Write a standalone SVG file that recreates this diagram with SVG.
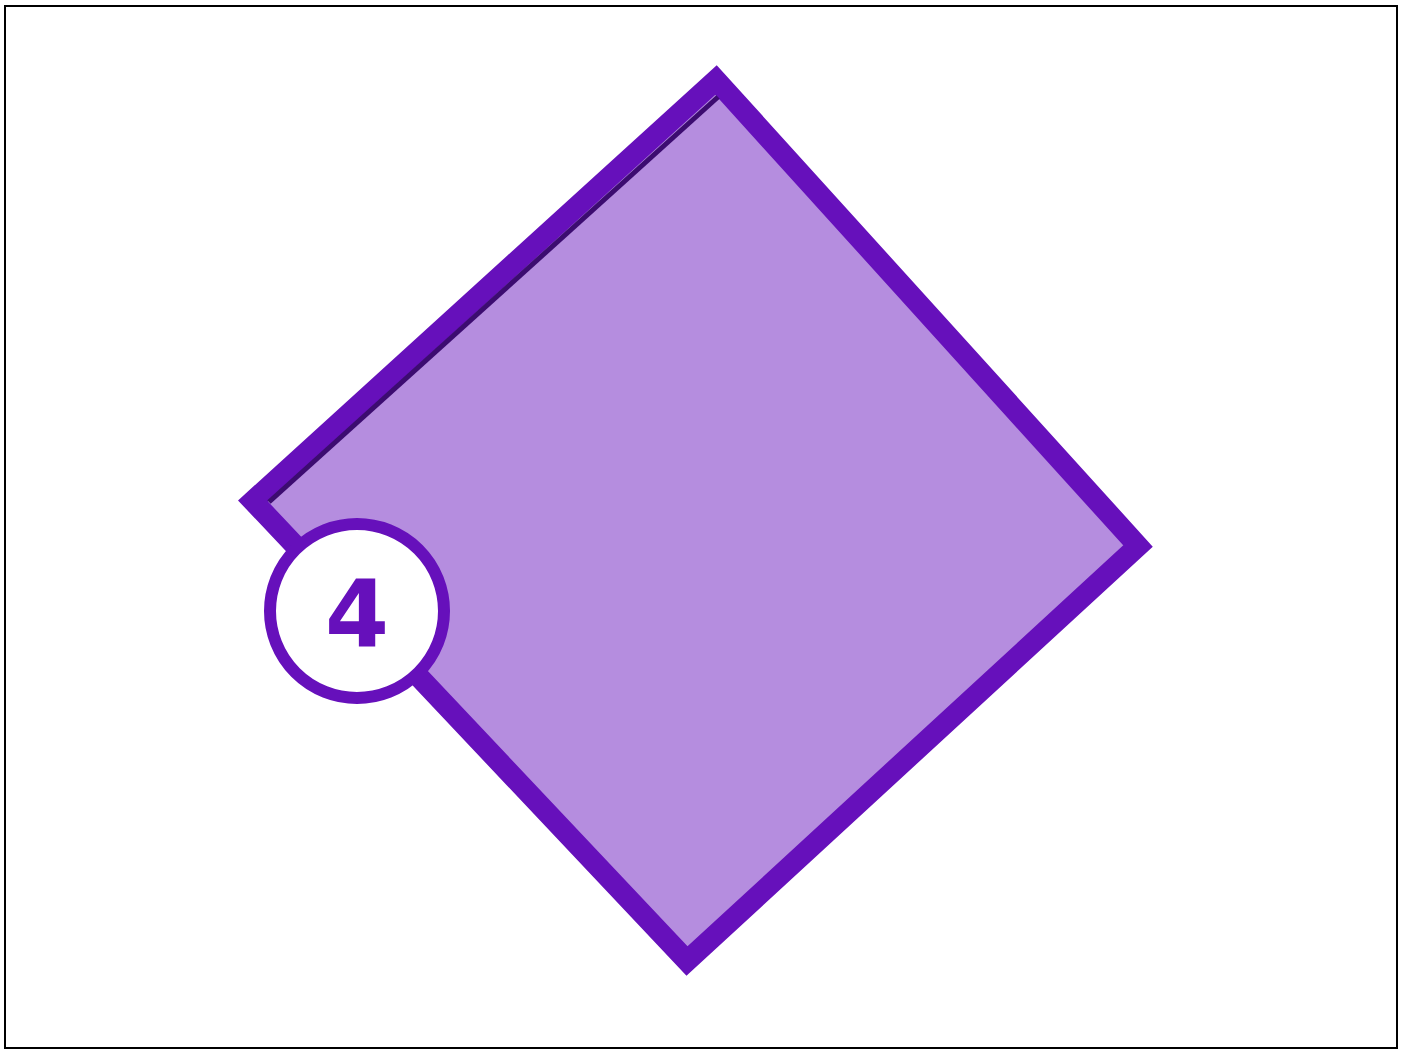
<svg xmlns="http://www.w3.org/2000/svg" width="1406" height="1050" viewBox="0 0 1406 1050">
<style>
.frame{fill:#ffffff;stroke:#000000;stroke-width:2}
.shape{fill:#b58ddf;stroke:#6610bb;stroke-width:21;stroke-linejoin:miter;stroke-miterlimit:10}
.edge{stroke:#3c0c70;stroke-width:5;fill:none}
.badge{fill:#ffffff;stroke:#6610bb;stroke-width:12}
.num{font-family:"DejaVu Sans","Liberation Sans",sans-serif;font-weight:700;font-size:92px;fill:#6610bb;text-anchor:middle}
</style>
<rect class="frame" x="5" y="6" width="1392" height="1042"/>
<g id="diamond">
<polygon class="shape" points="716,80 1138,546 687,961 253,501"/>
<line class="edge" x1="269" y1="502" x2="718" y2="97"/>
</g>
<g id="badge">
<circle class="badge" cx="357" cy="611" r="87"/>
<text class="num" x="357" y="646" font-weight="bold">4</text>
</g>
<g id="connectors"></g>
</svg>
